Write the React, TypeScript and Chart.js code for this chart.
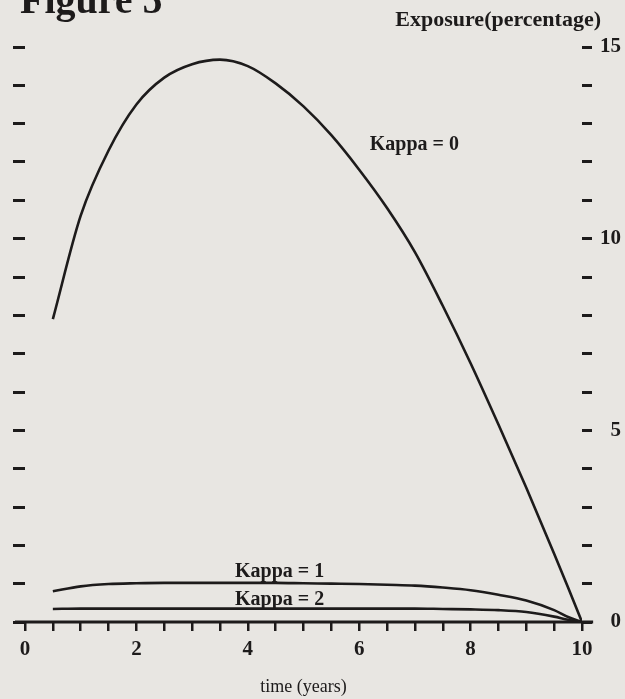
import React, { useEffect, useRef } from 'react';
import { Chart, registerables } from 'chart.js';

Chart.register(...registerables);

// ---- data ----
const timeYears = [0.5, 1, 1.5, 2, 2.5, 3, 3.5, 4, 4.5, 5, 5.5, 6, 6.5, 7, 7.5, 8, 8.5, 9, 9.5, 9.75, 10];
const kappa0 = [7.9, 10.6, 12.3, 13.5, 14.2, 14.55, 14.67, 14.5, 14.05, 13.45, 12.7, 11.8, 10.8, 9.65, 8.25, 6.75, 5.15, 3.5, 1.78, 0.9, 0];
const kappa1 = [0.8, 0.93, 0.99, 1.01, 1.02, 1.02, 1.02, 1.02, 1.02, 1.01, 1.0, 0.99, 0.97, 0.95, 0.9, 0.83, 0.71, 0.56, 0.31, 0.13, 0];
const kappa2 = [0.34, 0.35, 0.35, 0.35, 0.35, 0.35, 0.35, 0.35, 0.35, 0.35, 0.35, 0.35, 0.35, 0.35, 0.34, 0.33, 0.31, 0.26, 0.14, 0.06, 0];

const xTickLabels = ['0', '2', '4', '6', '8', '10'];
const yTickLabels = ['0', '5', '10', '15'];

const seriesLabels = ['Kappa = 0', 'Kappa = 1', 'Kappa = 2'];
// annotation anchor points in data units (time, exposure)
const labelTime = [6.19, 4.57, 4.57];
const labelValue = [12.32, 1.18, 0.44];
const labelAlign: CanvasTextAlign[] = ['left', 'center', 'center'];

const figureTitle = 'Figure 5';
const yAxisTitle = 'Exposure(percentage)';
const xAxisTitle = 'time (years)';

const INK = '#1d1b1b';
const PAPER = '#e8e6e2';
const SERIF = '"Liberation Serif", "Times New Roman", serif';

const decorPlugin = {
  id: 'decor',
  beforeDraw(chart: any) {
    const { ctx, width, height } = chart;
    ctx.save();
    ctx.fillStyle = PAPER;
    ctx.fillRect(0, 0, width, height);
    ctx.restore();
  },
  beforeDatasetsDraw(chart: any) {
    const { ctx, scales } = chart;
    const xs = scales.x;
    const ys = scales.y;
    const y0 = ys.getPixelForValue(0);
    ctx.save();
    ctx.strokeStyle = INK;
    ctx.lineWidth = 3;
    ctx.beginPath();
    ctx.moveTo(xs.getPixelForValue(-0.18), y0);
    ctx.lineTo(xs.getPixelForValue(10.2), y0);
    ctx.stroke();
    ctx.restore();
  },
  afterDraw(chart: any) {
    const { ctx, scales, chartArea } = chart;
    const xs = scales.x;
    const ys = scales.y;
    ctx.save();
    ctx.fillStyle = INK;
    // series labels
    ctx.font = `bold 20px ${SERIF}`;
    ctx.textBaseline = 'alphabetic';
    seriesLabels.forEach((t, i) => {
      ctx.textAlign = labelAlign[i];
      ctx.fillText(t, xs.getPixelForValue(labelTime[i]), ys.getPixelForValue(labelValue[i]));
    });
    // y-axis title (horizontal, top right)
    ctx.font = `bold 22px ${SERIF}`;
    ctx.textAlign = 'right';
    ctx.fillText(yAxisTitle, chartArea.right + 19, 26);
    // figure caption, cut at the top edge
    ctx.font = `bold 40px ${SERIF}`;
    ctx.textAlign = 'left';
    ctx.fillText(figureTitle, 20, 13);
    ctx.restore();
  },
};

export default function App() {
  const ref = useRef<HTMLCanvasElement | null>(null);

  useEffect(() => {
    if (!ref.current) return;
    const mk = (vals: number[]) => timeYears.map((t, i) => ({ x: t, y: vals[i] }));
    const lineStyle = {
      borderColor: INK,
      borderWidth: 2.6,
      pointRadius: 0,
      fill: false,
      cubicInterpolationMode: 'monotone' as const,
    };
    const chart = new Chart(ref.current, {
      type: 'line',
      data: {
        datasets: [
          { label: seriesLabels[0], data: mk(kappa0), ...lineStyle },
          { label: seriesLabels[1], data: mk(kappa1), ...lineStyle },
          { label: seriesLabels[2], data: mk(kappa2), ...lineStyle },
        ],
      },
      options: {
        animation: false,
        responsive: false,
        maintainAspectRatio: false,
        layout: { padding: { left: 13, right: 4, top: 47, bottom: 1 } },
        plugins: {
          legend: { display: false },
          tooltip: { enabled: false },
          title: { display: false },
        },
        scales: {
          x: {
            type: 'linear',
            position: 'bottom',
            min: 0,
            max: 10,
            afterFit: (s: any) => { s.height = 76; },
            ticks: {
              stepSize: 0.5,
              maxTicksLimit: 60,
              autoSkip: false,
              maxRotation: 0,
              padding: 6,
              color: INK,
              font: { family: SERIF, size: 21, weight: 'bold' },
              callback: (v: any) => (xTickLabels.includes(String(v)) ? String(v) : ''),
            },
            grid: {
              display: true,
              drawOnChartArea: false,
              drawTicks: true,
              tickLength: 9,
              lineWidth: 2.5,
              color: INK,
            },
            border: { display: false },
            title: {
              display: true,
              text: xAxisTitle,
              color: INK,
              font: { family: SERIF, size: 18 },
              padding: { top: 7, bottom: 0 },
            },
          },
          y: {
            type: 'linear',
            position: 'right',
            min: 0,
            max: 15,
            afterFit: (s: any) => { s.width = 39; },
            ticks: {
              stepSize: 1,
              maxTicksLimit: 60,
              autoSkip: false,
              padding: 8,
              crossAlign: 'far',
              color: INK,
              font: { family: SERIF, size: 21, weight: 'bold' },
              callback: (v: any) => (yTickLabels.includes(String(v)) ? String(v) : ''),
            },
            grid: {
              display: true,
              drawOnChartArea: false,
              drawTicks: true,
              tickLength: 10,
              lineWidth: 3,
              color: INK,
            },
            border: { display: false },
          },
          yLeft: {
            type: 'linear',
            position: 'left',
            min: 0,
            max: 15,
            afterFit: (s: any) => { s.width = 12; },
            ticks: {
              stepSize: 1,
              maxTicksLimit: 60,
              autoSkip: false,
              padding: 0,
              callback: () => '',
            },
            grid: {
              display: true,
              drawOnChartArea: false,
              drawTicks: true,
              tickLength: 12,
              lineWidth: 3,
              color: INK,
            },
            border: { display: false },
          },
        },
      } as any,
      plugins: [decorPlugin],
    });
    return () => chart.destroy();
  }, []);

  return (
    <div style={{ position: 'absolute', left: 0, top: 0, width: 625, height: 699, background: PAPER }}>
      <canvas ref={ref} width={625} height={699} style={{ display: 'block' }} />
    </div>
  );
}
